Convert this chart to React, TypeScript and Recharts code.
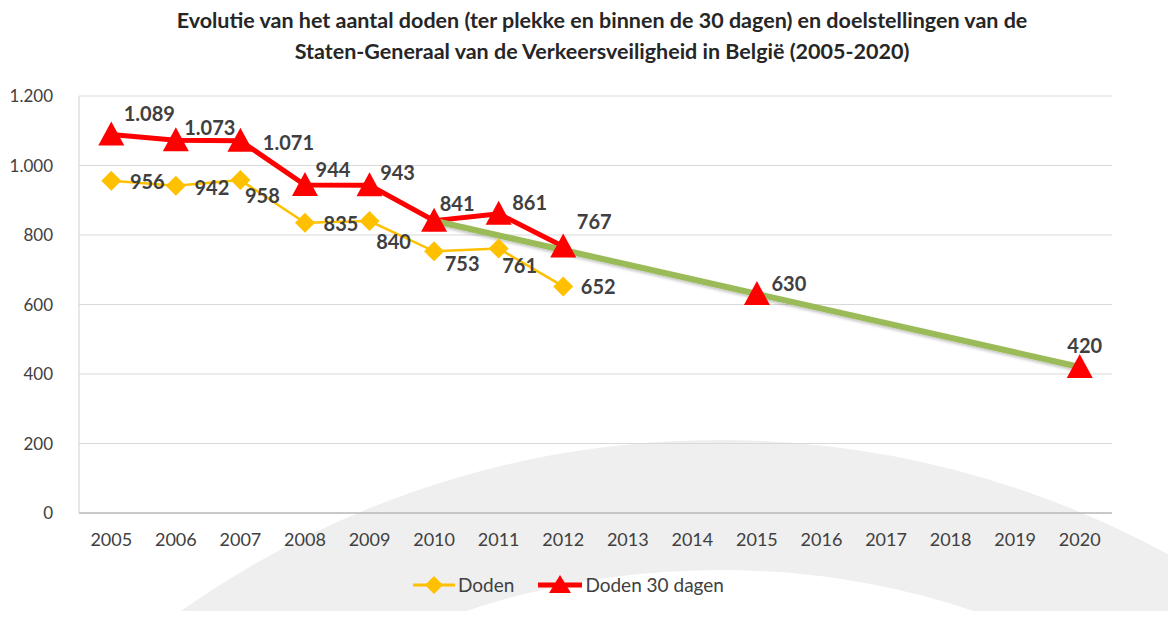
import React from 'react';
import { LineChart, Line, XAxis, YAxis, CartesianGrid, LabelList } from 'recharts';

const years = ['2005', '2006', '2007', '2008', '2009', '2010', '2011', '2012', '2013', '2014', '2015', '2016', '2017', '2018', '2019', '2020'];
const doden = [956, 942, 958, 835, 840, 753, 761, 652, null, null, null, null, null, null, null, null];
const doden30 = [1089, 1073, 1071, 944, 943, 841, 861, 767, null, null, 630, null, null, null, null, 420];
const doelstelling = [null, null, null, null, null, 841, null, null, null, null, null, null, null, null, null, 420];
const yTicks = [0, 200, 400, 600, 800, 1000, 1200];

// label offsets (dx, dy) per point
const dodenLabelPos = [[36, 0], [36, 1], [22, 15], [36, 0], [24, 20], [28, 12], [21, 16], [35, 0]];
const doden30LabelPos = [[38, -22], [34, -13], [48, 1], [28, -16], [28, -13], [23, -18], [31, -12], [31, -25], [0, 0], [0, 0], [32, -11], [0, 0], [0, 0], [0, 0], [0, 0], [5, -22]];

const YELLOW = '#FFC000';
const RED = '#FF0000';
const GREEN = '#9BBB59';
const TEXT = '#404040';
const FONT = 'Lato, "Open Sans", sans-serif';

const data = years.map((year, i) => ({
  year,
  doden: doden[i],
  doden30: doden30[i],
  doel: doelstelling[i],
}));

const fmt = (v: number) => String(v).replace(/\B(?=(\d{3})+(?!\d))/g, '.');

const Triangle = (props: any) => {
  const { cx, cy, index } = props;
  if (cx == null || cy == null || props.value == null) return <g key={`t-${index}`} />;
  return <polygon key={`t-${index}`} points={`${cx},${cy - 13} ${cx - 13},${cy + 11} ${cx + 13},${cy + 11}`} fill={RED} />;
};

const Diamond = (props: any) => {
  const { cx, cy, index } = props;
  if (cx == null || cy == null || props.value == null) return <g key={`d-${index}`} />;
  return <polygon key={`d-${index}`} points={`${cx},${cy - 10} ${cx + 10},${cy} ${cx},${cy + 10} ${cx - 10},${cy}`} fill={YELLOW} />;
};

const makeLabel = (pos: number[][]) => (props: any) => {
  const { x, y, value, index } = props;
  if (value == null || x == null) return null;
  const [dx, dy] = pos[index] || [30, 0];
  return (
    <text x={x + dx} y={y + dy} textAnchor="middle" dominantBaseline="central" fill={TEXT} fontSize={20} fontWeight={700} fontFamily={FONT}>
      {fmt(value)}
    </text>
  );
};

export default function App() {
  return (
    <div style={{ position: 'relative', width: 1176, height: 619, margin: -8, overflow: 'hidden', background: '#fff', fontFamily: FONT }}>
      {/* faint background arc */}
      <div style={{ position: 'absolute', left: 720 - 934, top: 1374 - 934, width: 934 * 2, height: 934 * 2, borderRadius: '50%', boxSizing: 'border-box', border: '130px solid #efefef' }} />
      <div style={{ position: 'absolute', top: 5, left: 14, width: 1176, textAlign: 'center', fontWeight: 700, fontSize: 21.5, lineHeight: '31px', color: '#262626' }}>
        Evolutie van het aantal doden (ter plekke en binnen de 30 dagen) en doelstellingen van de
        <br />
        Staten-Generaal van de Verkeersveiligheid in België (2005-2020)
      </div>
      <div style={{ position: 'absolute', top: 0, left: 0 }}>
        <LineChart width={1176} height={619} data={data} margin={{ top: 96, right: 64, bottom: 76, left: 0 }}>
          <defs>
            <filter id="greenShadow" x="-5%" y="-20%" width="110%" height="140%">
              <feDropShadow dx="1" dy="2" stdDeviation="1.5" floodColor="#000" floodOpacity="0.25" />
            </filter>
          </defs>
          <CartesianGrid vertical={false} stroke="#d9d9d9" />
          <XAxis
            dataKey="year"
            scale="band"
            height={30}
            tickLine={false}
            tickSize={0}
            tickMargin={20}
            axisLine={{ stroke: '#a6a6a6' }}
            tick={{ fill: TEXT, fontSize: 18, fontFamily: FONT }}
            interval={0}
          />
          <YAxis
            width={79}
            domain={[0, 1200]}
            ticks={yTicks}
            tickLine={false}
            tickSize={0}
            tickMargin={26}
            axisLine={{ stroke: '#d0d0d0' }}
            tickFormatter={fmt}
            tick={{ fill: TEXT, fontSize: 17, fontFamily: FONT }}
          />
          <Line dataKey="doden" name="Doden" stroke={YELLOW} strokeWidth={2.5} dot={Diamond} activeDot={false} isAnimationActive={false}>
            <LabelList dataKey="doden" content={makeLabel(dodenLabelPos)} />
          </Line>
          <Line dataKey="doden30" name="Doden 30 dagen" stroke={RED} strokeWidth={5} dot={Triangle} activeDot={false} isAnimationActive={false}>
            <LabelList dataKey="doden30" content={makeLabel(doden30LabelPos)} />
          </Line>
          <Line dataKey="doel" stroke={GREEN} strokeWidth={6} dot={false} activeDot={false} connectNulls legendType="none" filter="url(#greenShadow)" isAnimationActive={false} />
        </LineChart>
      </div>
      <div style={{ position: 'absolute', top: 573, left: 411, display: 'flex', alignItems: 'center', fontSize: 19, color: TEXT, lineHeight: '24px' }}>
        <svg width={46} height={24}>
          <line x1={2} y1={12} x2={44} y2={12} stroke={YELLOW} strokeWidth={3} />
          <polygon points="23,3 32,12 23,21 14,12" fill={YELLOW} />
        </svg>
        <span style={{ marginLeft: 1 }}>Doden</span>
        <svg width={48} height={24} style={{ marginLeft: 22 }}>
          <line x1={2} y1={12} x2={46} y2={12} stroke={RED} strokeWidth={5} />
          <polygon points="24,2 35,20 13,20" fill={RED} />
        </svg>
        <span style={{ marginLeft: 1 }}>Doden 30 dagen</span>
      </div>
    </div>
  );
}
